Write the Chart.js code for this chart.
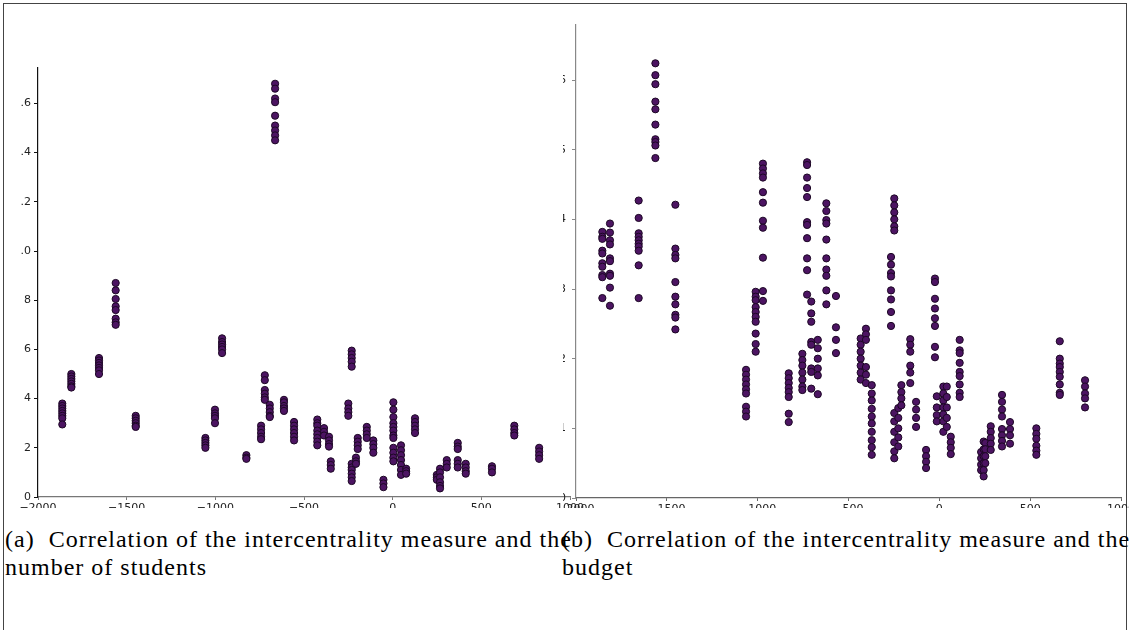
<!DOCTYPE html>
<html>
<head>
<meta charset="utf-8">
<script src="https://cdn.jsdelivr.net/npm/chart.js@4.4.0/dist/chart.umd.min.js"></script>
<style>
body{margin:0;width:1129px;height:630px;overflow:hidden;background:#fff;position:relative;}
.clip{position:absolute;overflow:hidden;}
.clip canvas{position:absolute;top:0;}
.cap{position:absolute;font-family:'Liberation Serif','DejaVu Serif',serif;font-size:24px;line-height:28px;letter-spacing:1px;color:#000;white-space:nowrap;}
.line{position:absolute;background:#444;}
</style>
</head>
<body>
<div class="line" style="left:3px;top:3px;width:1px;height:627px"></div>
<div class="line" style="left:3px;top:3px;width:1124px;height:1px"></div>
<div class="line" style="left:1126px;top:3px;width:1px;height:627px"></div>

<div class="clip" style="left:20px;top:0;width:580px;height:508px">
  <canvas id="chartA" width="600" height="530" style="left:-20px"></canvas>
</div>
<div class="clip" style="left:563px;top:0;width:566px;height:508px">
  <canvas id="chartB" width="620" height="530" style="left:-23px"></canvas>
</div>

<div class="cap" style="left:5px;top:525px">(a)&nbsp; Correlation of the intercentrality measure and the<br>number of students</div>
<div class="cap" style="left:562px;top:525px">(b)&nbsp; Correlation of the intercentrality measure and the<br>budget</div>

<script>
// x ticks shared by both panels
const xTicks = [-2000, -1500, -1000, -500, 0, 500, 1000];
// left panel y tick labels as they show (cut at the figure edge)
const yTickLabelsA = ['0', '2', '4', '6', '8', '.0', '.2', '.4', '.6'];
const yTickLabelsB = ['0', '1', '2', '3', '4', '5', '6'];

// (a) number of students: one x per district, several y values each
const colXA = [-1863, -1812, -1656, -1562, -1449, -1056, -1002, -962, -825, -742, -721, -693, -663, -613, -556,
  -425, -387, -359, -349, -250, -231, -207, -197, -146, -109, -52, 4, 47, 76, 126, 249, 267, 305, 367, 412, 560, 686, 826];
const colYA = [
  [3.8, 3.7, 3.6, 3.5, 3.4, 3.3, 3.2, 2.95],
  [5.0, 4.9, 4.8, 4.7, 4.6, 4.5, 4.45],
  [5.65, 5.55, 5.45, 5.35, 5.25, 5.15, 5.0],
  [8.7, 8.4, 8.05, 7.75, 7.6, 7.25, 7.1, 7.0],
  [3.3, 3.2, 3.1, 3.0, 2.9, 2.85],
  [2.4, 2.3, 2.2, 2.1, 2.0],
  [3.55, 3.4, 3.3, 3.2, 3.0],
  [6.45, 6.3, 6.2, 6.1, 6.0, 5.85],
  [1.7, 1.6, 1.55],
  [2.9, 2.75, 2.6, 2.45, 2.35],
  [4.95, 4.75, 4.35, 4.2, 4.05, 3.95],
  [3.75, 3.6, 3.45, 3.3, 3.25],
  [16.8, 16.6, 16.2, 16.05, 15.5, 15.1, 14.9, 14.7, 14.5],
  [3.95, 3.85, 3.7, 3.6, 3.5],
  [3.05, 2.9, 2.75, 2.6, 2.45, 2.3],
  [3.15, 3.0, 2.9, 2.7, 2.55, 2.4, 2.25, 2.1],
  [2.8, 2.65, 2.5],
  [2.45, 2.3, 2.15, 2.05],
  [1.45, 1.3, 1.15],
  [3.8, 3.6, 3.45, 3.3],
  [5.95, 5.8, 5.65, 5.5, 5.3, 1.35, 1.2, 1.1, 0.95, 0.8, 0.65],
  [1.6, 1.45, 1.35],
  [2.4, 2.25, 2.1, 1.95],
  [2.85, 2.7, 2.55, 2.4],
  [2.3, 2.15, 2.0, 1.8],
  [0.7, 0.55, 0.4],
  [3.85, 3.55, 3.25, 3.0, 2.85, 2.7, 2.5, 2.4, 2.0, 1.8, 1.6, 1.45],
  [2.1, 1.9, 1.7, 1.5, 1.3, 1.1, 0.9],
  [1.15, 1.05, 0.95],
  [3.2, 3.05, 2.9, 2.75, 2.6],
  [0.9, 0.8, 0.7],
  [1.15, 1.0, 0.8, 0.6, 0.45, 0.35],
  [1.5, 1.35, 1.2],
  [2.2, 2.05, 1.95, 1.5, 1.35, 1.2],
  [1.35, 1.2, 1.05, 0.95],
  [1.25, 1.15, 1.0],
  [2.9, 2.75, 2.6, 2.5],
  [2.0, 1.85, 1.7, 1.55]
];

// (b) budget
const colXB = [-1855, -1813, -1655, -1563, -1453, -1064, -1011, -971, -829, -754, -728, -705, -669, -622, -569,
  -433, -404, -372, -266, -248, -226, -209, -160, -128, -73, -24, -14, 22, 41, 63, 112, 230, 244, 253, 283, 345, 389, 534, 663, 802];
const colYB = [
  [3.82, 3.75, 3.72, 3.55, 3.51, 3.37, 3.32, 3.2, 3.17, 2.87],
  [3.94, 3.81, 3.70, 3.64, 3.44, 3.40, 3.22, 3.19, 3.02, 2.76],
  [4.27, 4.02, 3.80, 3.75, 3.70, 3.65, 3.61, 3.55, 3.34, 2.87],
  [6.24, 6.07, 5.94, 5.69, 5.58, 5.36, 5.15, 5.11, 5.06, 4.88],
  [4.21, 3.58, 3.49, 3.44, 3.10, 2.89, 2.78, 2.63, 2.59, 2.42],
  [1.84, 1.77, 1.70, 1.63, 1.56, 1.50, 1.31, 1.24, 1.17],
  [2.96, 2.89, 2.84, 2.74, 2.67, 2.60, 2.53, 2.36, 2.21, 2.10],
  [4.80, 4.73, 4.66, 4.60, 4.39, 4.24, 3.98, 3.88, 3.45, 2.97, 2.83],
  [1.79, 1.72, 1.65, 1.58, 1.52, 1.45, 1.21, 1.09],
  [2.07, 1.98, 1.9, 1.8, 1.7, 1.6, 1.55],
  [4.82, 4.78, 4.60, 4.45, 4.32, 3.96, 3.92, 3.73, 3.44, 3.27, 2.92],
  [2.82, 2.65, 2.53, 2.24, 2.20, 1.86, 1.81, 1.57],
  [2.27, 2.15, 2.0, 1.86, 1.76, 1.49],
  [4.23, 4.12, 3.99, 3.94, 3.71, 3.44, 3.28, 3.19, 2.98, 2.78],
  [2.90, 2.45, 2.27, 2.08],
  [2.29, 2.2, 2.1, 2.0, 1.9, 1.8, 1.7],
  [2.43, 2.35, 2.27, 1.88, 1.77, 1.65],
  [1.62, 1.5, 1.4, 1.28, 1.17, 1.07, 0.95, 0.83, 0.73, 0.62],
  [3.46, 3.35, 3.23, 3.18, 2.98, 2.85, 2.67, 2.47],
  [4.30, 4.2, 4.1, 4.0, 3.9, 3.84, 1.22, 1.1, 0.95, 0.8, 0.67, 0.57],
  [1.29, 1.15, 1.0, 0.87, 0.74],
  [1.62, 1.52, 1.43, 1.33],
  [2.28, 2.2, 2.1, 1.9, 1.8, 1.65],
  [1.38, 1.27, 1.15, 1.02],
  [0.69, 0.6, 0.52, 0.43],
  [3.15, 3.10, 2.86, 2.72, 2.58, 2.47, 2.17, 2.02],
  [1.46, 1.30, 1.19, 1.10],
  [1.6, 1.5, 1.4, 1.3, 1.2, 1.1, 0.95],
  [1.6, 1.45, 1.3, 1.15, 1.02],
  [0.88, 0.8, 0.72, 0.63],
  [2.27, 2.12, 2.08, 1.94, 1.81, 1.75, 1.63, 1.51, 1.45],
  [0.66, 0.57, 0.48, 0.40],
  [0.81, 0.7, 0.6, 0.5, 0.4, 0.31],
  [0.79, 0.7, 0.6, 0.5],
  [1.03, 0.95, 0.86, 0.78, 0.69],
  [1.48, 1.38, 1.27, 1.17, 0.99, 0.9, 0.82, 0.74],
  [1.09, 0.99, 0.9, 0.78],
  [1.0, 0.92, 0.85, 0.75, 0.68, 0.62],
  [2.25, 2.0, 1.93, 1.88, 1.81, 1.74, 1.63, 1.51, 1.48],
  [1.69, 1.6, 1.5, 1.43, 1.30]
];

function toPoints(xs, ys){
  const pts = [];
  xs.forEach((x,i)=>ys[i].forEach(y=>pts.push({x, y})));
  return pts;
}
const fmtX = v => v < 0 ? '\u2212' + Math.abs(v) : String(v);

function makeChart(id, pts, o){
  return new Chart(document.getElementById(id), {
    type: 'scatter',
    data: {datasets: [{data: pts, pointRadius: 3.6, pointBackgroundColor: '#4c1462', pointBorderColor: '#1c0724', pointBorderWidth: 1}]},
    options: {
      responsive: false, animation: false, devicePixelRatio: 1,
      layout: {padding: {left: 0, top: o.top, right: o.right, bottom: 0}},
      plugins: {legend: {display: false}, tooltip: {enabled: false}},
      scales: {
        x: {
          type: 'linear', min: -2000, max: 1000,
          afterBuildTicks: s => { s.ticks = xTicks.map(v => ({value: v})); },
          afterFit: s => { s.height = o.xh; },
          border: {color: o.xAxisColor, width: 1.2},
          grid: {drawOnChartArea: false, tickLength: 3, color: o.xAxisColor},
          ticks: {callback: fmtX, maxRotation: 0, autoSkip: false, padding: 2, color: '#222', font: {family: 'DejaVu Sans', size: 11}}
        },
        y: {
          type: 'linear', min: 0, max: o.ymax,
          afterBuildTicks: s => { s.ticks = o.yLabels.map((l, i) => ({value: i * o.ystep})); },
          afterFit: s => { s.width = o.yw; },
          border: {color: o.yAxisColor, width: 1.2},
          grid: {drawOnChartArea: false, tickLength: 4, color: o.yAxisColor},
          ticks: {callback: v => o.yLabels[Math.round(v / o.ystep)], padding: o.ypad, color: '#222', font: {family: 'DejaVu Sans', size: 11}}
        }
      }
    }
  });
}

makeChart('chartA', toPoints(colXA, colYA), {top: 68, right: 30, xh: 33, yw: 38, ymax: 17.44, ystep: 2, ypad: 3, yLabels: yTickLabelsA, xAxisColor: '#777', yAxisColor: '#111'});
makeChart('chartB', toPoints(colXB, colYB), {top: 25, right: 39, xh: 32, yw: 36, ymax: 6.79, ystep: 1, ypad: 6, yLabels: yTickLabelsB, xAxisColor: '#666', yAxisColor: '#888'});
</script>
</body>
</html>
